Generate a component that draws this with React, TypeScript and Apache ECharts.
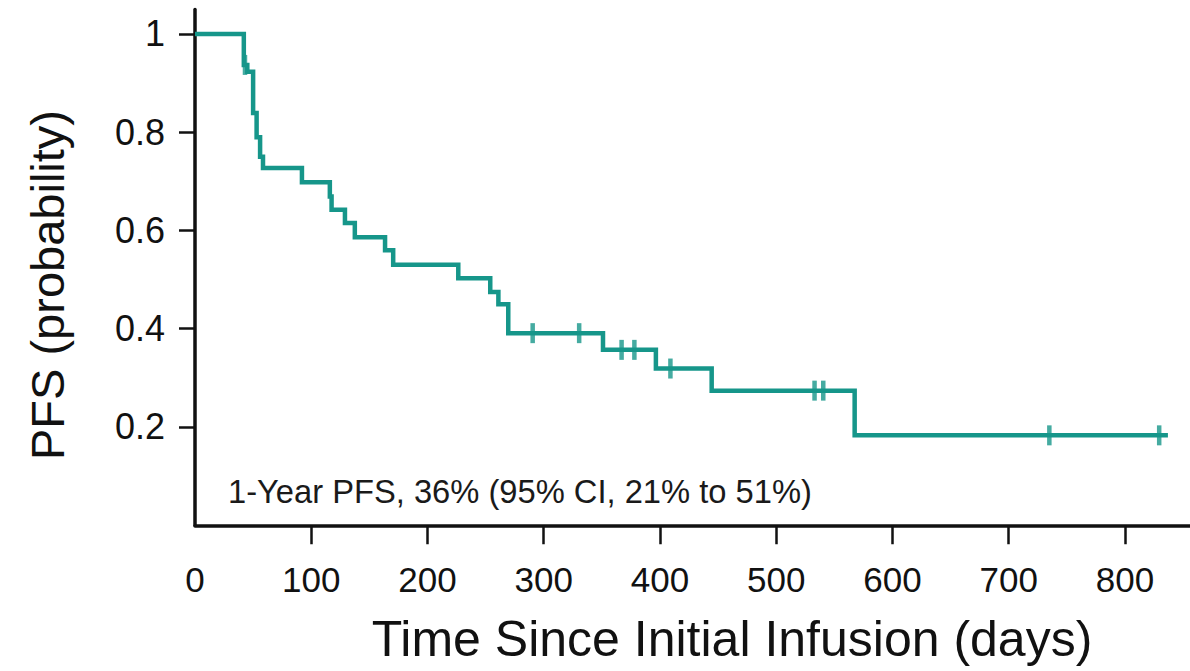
import React, { useEffect, useRef } from "react";
import * as echarts from "echarts";

// Kaplan-Meier step curve: event times (days) and survival probability after each step
const eventDays = [0, 42, 45, 50, 53, 56, 58.5, 92, 116, 117.5, 129, 137.5, 163.5, 170.5, 226.5, 254, 261, 269.5, 351, 396.5, 444.5, 567.5, 837];
const survival = [1, 0.937, 0.923, 0.839, 0.79, 0.75, 0.727, 0.698, 0.669, 0.642, 0.615, 0.586, 0.56, 0.53, 0.503, 0.475, 0.45, 0.391, 0.357, 0.319, 0.274, 0.183, 0.183];

// Censored observations
const censorDays = [43, 290.5, 330.5, 367, 378, 409, 533, 540.5, 735, 829.5];
const censorProb = [0.937, 0.391, 0.391, 0.357, 0.357, 0.319, 0.274, 0.274, 0.183, 0.183];

// Axis ticks
const xTickLabels = [0, 100, 200, 300, 400, 500, 600, 700, 800];
const xTickMarks = [100, 200, 300, 400, 500, 600, 700, 800];
const yTicks = [0.2, 0.4, 0.6, 0.8, 1];

const xTitle = "Time Since Initial Infusion (days)";
const yTitle = "PFS (probability)";
const note = "1-Year PFS, 36% (95% CI, 21% to 51%)";

const TEAL = "#16968a";
const INK = "#111111";
const FONT = "'Liberation Sans', Arial, Helvetica, sans-serif";

export default function App() {
  const ref = useRef<HTMLDivElement>(null);

  useEffect(() => {
    document.body.style.margin = "0";
    if (!ref.current) return;
    const chart = echarts.init(ref.current, null, { renderer: "svg" });

    const curve = eventDays.map((d, i) => [d, survival[i]]);
    const censors = censorDays.map((d, i) => [d, censorProb[i]]);

    chart.setOption({
      animation: false,
      backgroundColor: "#ffffff",
      grid: { left: 195, right: 0, top: 9.4, bottom: 145.75, containLabel: false },
      xAxis: {
        type: "value",
        min: 0,
        max: 856,
        interval: 100,
        splitLine: { show: false },
        axisLine: { show: true, onZero: false, lineStyle: { color: INK, width: 3.5 } },
        axisTick: {
          show: true,
          length: 19,
          customValues: xTickMarks,
          lineStyle: { color: INK, width: 2.5 },
        },
        axisLabel: {
          customValues: xTickLabels,
          margin: 37,
          fontSize: 35,
          color: INK,
          fontFamily: FONT,
          showMaxLabel: true,
        },
      },
      yAxis: {
        type: "value",
        min: 0,
        max: 1.05,
        interval: 0.2,
        splitLine: { show: false },
        axisLine: { show: true, onZero: false, lineStyle: { color: INK, width: 3.5 } },
        axisTick: {
          show: true,
          length: 16,
          customValues: yTicks,
          lineStyle: { color: INK, width: 2.5 },
        },
        axisLabel: {
          customValues: yTicks,
          margin: 30,
          fontSize: 36,
          color: INK,
          fontFamily: FONT,
          formatter: (v: number) => (v === 1 ? "1" : String(Math.round(v * 10) / 10)),
        },
      },
      series: [
        {
          type: "line",
          step: "end",
          data: curve,
          showSymbol: false,
          symbol: "none",
          lineStyle: { color: TEAL, width: 4.5, join: "miter", cap: "butt" },
          z: 3,
        },
        {
          type: "scatter",
          data: censors,
          symbol: "rect",
          symbolSize: [4.5, 20],
          itemStyle: { color: TEAL },
          z: 4,
        },
      ],
      graphic: [
        {
          type: "text",
          x: 228,
          y: 491,
          style: {
            text: note,
            fontSize: 32.7,
            fontFamily: FONT,
            fill: "#1a1a1a",
            align: "left",
            verticalAlign: "middle",
          },
        },
        {
          type: "text",
          x: 732,
          y: 639,
          style: {
            text: xTitle,
            fontSize: 50,
            fontFamily: FONT,
            fill: INK,
            align: "center",
            verticalAlign: "middle",
          },
        },
        {
          type: "text",
          x: 47,
          y: 285,
          rotation: Math.PI / 2,
          style: {
            text: yTitle,
            fontSize: 47,
            fontFamily: FONT,
            fill: INK,
            align: "center",
            verticalAlign: "middle",
          },
        },
      ],
    });

    return () => {
      chart.dispose();
    };
  }, []);

  return <div ref={ref} style={{ width: 1190, height: 671 }} />;
}
